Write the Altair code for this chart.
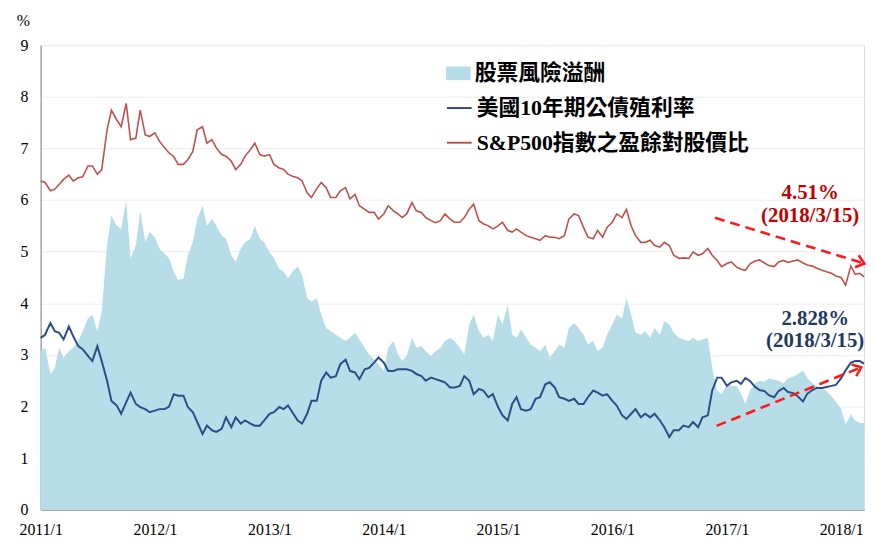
import altair as alt
import pandas as pd

# ---------------- data (semi-monthly, 2011/1/1 .. 2018/3/15) ----------------
dates = pd.date_range("2011-01-01", "2018-03-15", freq="SMS")

# S&P500 earnings yield (%)
ep_values = [
    6.37, 6.34, 6.18, 6.21, 6.30, 6.40, 6.48, 6.37, 6.43, 6.45, 6.66, 6.66, 6.50, 6.59, 7.36,
    7.74, 7.55, 7.42, 7.87, 7.17, 7.20, 7.74, 7.26, 7.23, 7.30, 7.14, 7.01, 6.91, 6.84, 6.69,
    6.69, 6.78, 6.94, 7.36, 7.42, 7.10, 7.17, 7.01, 6.88, 6.85, 6.75, 6.59, 6.69, 6.85,
    6.98, 7.10, 6.88, 6.85, 6.88, 6.69, 6.62, 6.59, 6.50, 6.46, 6.43, 6.37, 6.14, 6.05,
    6.22, 6.34, 6.24, 6.05, 6.05, 6.18, 6.24, 6.02, 6.11, 5.89, 5.82, 5.76, 5.76, 5.63, 5.73,
    5.89, 5.79, 5.73, 5.66, 5.73, 5.95, 5.79, 5.76, 5.66, 5.60, 5.56, 5.60, 5.73, 5.63, 5.57,
    5.57, 5.66, 5.82, 5.92, 5.60, 5.54, 5.50, 5.44, 5.50, 5.57, 5.41, 5.38, 5.44, 5.38,
    5.31, 5.28, 5.25, 5.22, 5.31, 5.28, 5.28, 5.25, 5.31, 5.63, 5.73, 5.70, 5.47, 5.28,
    5.25, 5.41, 5.28, 5.47, 5.57, 5.73, 5.66, 5.82, 5.50, 5.31, 5.18, 5.18, 5.22, 5.12, 5.09,
    5.18, 5.12, 4.93, 4.87, 4.88, 4.87, 4.99, 4.93, 4.96, 5.06, 4.93, 4.83, 4.71, 4.77, 4.80,
    4.70, 4.66, 4.64, 4.76, 4.82, 4.84, 4.78, 4.73, 4.71, 4.80, 4.83, 4.79, 4.82, 4.84,
    4.78, 4.74, 4.72, 4.68, 4.64, 4.61, 4.58, 4.53, 4.50, 4.35, 4.72, 4.56, 4.58, 4.51,
]

# US 10-year Treasury yield (%)
y10_values = [
    3.33, 3.39, 3.62, 3.46, 3.43, 3.30, 3.55, 3.36, 3.17, 3.11, 2.98, 2.88, 3.17, 2.88, 2.50,
    2.11, 2.02, 1.86, 2.08, 2.27, 2.05, 1.99, 1.95, 1.89, 1.92, 1.95, 1.95, 2.00, 2.24, 2.21,
    2.21, 1.99, 1.89, 1.70, 1.47, 1.63, 1.54, 1.51, 1.57, 1.79, 1.60, 1.79, 1.67, 1.73,
    1.67, 1.63, 1.63, 1.73, 1.86, 1.89, 1.99, 1.95, 2.02, 1.89, 1.73, 1.67, 1.86, 2.11,
    2.11, 2.50, 2.66, 2.56, 2.59, 2.82, 2.91, 2.69, 2.66, 2.53, 2.72, 2.75, 2.85, 2.95, 2.85,
    2.69, 2.69, 2.72, 2.72, 2.72, 2.69, 2.63, 2.59, 2.50, 2.56, 2.53, 2.50, 2.47, 2.37, 2.37,
    2.40, 2.59, 2.50, 2.24, 2.34, 2.31, 2.18, 2.24, 1.99, 1.83, 1.73, 2.05, 2.18, 1.95,
    1.92, 1.95, 2.15, 2.18, 2.43, 2.47, 2.37, 2.18, 2.15, 2.11, 2.15, 2.05, 2.05, 2.18,
    2.31, 2.27, 2.21, 2.24, 2.11, 2.02, 1.83, 1.76, 1.86, 1.95, 1.79, 1.86, 1.79, 1.86, 1.73,
    1.60, 1.41, 1.54, 1.54, 1.63, 1.60, 1.70, 1.60, 1.79, 1.83, 2.31, 2.56, 2.56, 2.40, 2.47,
    2.50, 2.44, 2.55, 2.50, 2.38, 2.32, 2.30, 2.22, 2.18, 2.30, 2.36, 2.28, 2.26, 2.20,
    2.10, 2.25, 2.32, 2.36, 2.36, 2.38, 2.40, 2.42, 2.55, 2.70, 2.85, 2.88, 2.88, 2.83,
]

# Equity risk premium (%)
erp_values = [
    3.07, 3.14, 2.63, 2.75, 3.14, 2.95, 3.07, 3.14, 3.27, 3.46, 3.71, 3.78, 3.46, 3.84, 5.12,
    5.70, 5.50, 5.44, 5.98, 4.87, 5.12, 5.79, 5.18, 5.38, 5.28, 5.06, 4.96, 4.87, 4.61, 4.45,
    4.48, 4.93, 5.18, 5.63, 5.89, 5.50, 5.63, 5.50, 5.31, 5.25, 4.93, 4.80, 5.06, 5.18,
    5.25, 5.50, 5.25, 5.18, 4.99, 4.87, 4.67, 4.61, 4.48, 4.61, 4.71, 4.55, 4.10, 4.03,
    4.10, 3.78, 3.52, 3.46, 3.39, 3.33, 3.27, 3.33, 3.43, 3.30, 3.14, 3.01, 2.91, 2.82, 2.69,
    3.14, 3.27, 3.01, 2.88, 2.98, 3.33, 3.14, 3.17, 3.07, 2.98, 3.07, 3.14, 3.27, 3.33, 3.27,
    3.14, 3.01, 3.59, 3.78, 3.46, 3.33, 3.39, 3.27, 3.78, 3.59, 3.97, 3.39, 3.33, 3.49,
    3.33, 3.20, 3.14, 3.07, 3.20, 2.95, 3.07, 3.20, 3.14, 3.52, 3.62, 3.52, 3.39, 3.20,
    3.27, 3.07, 3.14, 3.39, 3.59, 3.78, 3.71, 4.10, 3.78, 3.43, 3.39, 3.46, 3.33, 3.52, 3.39,
    3.65, 3.59, 3.43, 3.33, 3.30, 3.27, 3.33, 3.27, 3.30, 3.33, 2.75, 2.31, 2.24, 2.43, 2.40,
    2.40, 2.25, 2.05, 2.30, 2.45, 2.50, 2.48, 2.55, 2.52, 2.50, 2.45, 2.55, 2.58, 2.62,
    2.70, 2.55, 2.45, 2.40, 2.35, 2.30, 2.20, 2.10, 1.95, 1.65, 1.85, 1.72, 1.68, 1.68,
]

NAME_ERP = "股票風險溢酬"
NAME_Y10 = "美國10年期公債殖利率"
NAME_EP = "S&P500指數之盈餘對股價比"

# annotations
ann_dates = ["2017-09-24", "2017-09-24", "2017-10-10", "2017-10-10"]
ann_values = [6.14, 5.68, 3.70, 3.26]
ann_labels = ["4.51%", "(2018/3/15)", "2.828%", "(2018/3/15)"]
ann_colors = ["#c00000", "#c00000", "#1f3864", "#1f3864"]

# dashed arrows (start -> tip)
arrow_ids = ["ep", "ep", "y10", "y10"]
arrow_dates = ["2016-11-24", "2018-03-16", "2016-11-29", "2018-03-06"]
arrow_values = [5.655, 4.77, 1.625, 2.76]

# ---------------- styling ----------------
SERIF = "Liberation Serif"
LEGEND_FONT = "'Liberation Serif', 'Noto Sans CJK TC'"
AREA_COLOR = "#b7dde8"
BLUE = "#2c4d87"
RED = "#c0504d"
ARROW = "#ff1a1a"

df_area = pd.DataFrame({"date": dates, "value": erp_values, "series": NAME_ERP})
df_y10 = pd.DataFrame({"date": dates, "value": y10_values, "series": NAME_Y10})
df_ep = pd.DataFrame({"date": dates, "value": ep_values, "series": NAME_EP})
df_ann = pd.DataFrame({"date": pd.to_datetime(ann_dates), "value": ann_values,
                       "label": ann_labels, "color": ann_colors})
df_arrow = pd.DataFrame({"date": pd.to_datetime(arrow_dates), "value": arrow_values, "arrow": arrow_ids})

x_scale = alt.Scale(domain=[alt.DateTime(year=2011, month=1, date=1),
                            alt.DateTime(year=2018, month=3, date=15)])
y_scale = alt.Scale(domain=[0, 9], nice=False)

x_axis = alt.Axis(
    values=[alt.DateTime(year=y, month=1, date=1) for y in range(2011, 2019)],
    format="%Y/%-m", labelFont=SERIF, labelFontSize=16, labelColor="black",
    ticks=False, grid=False, domainColor="#a6a6a6", domainWidth=1.5,
    labelPadding=12, labelFlush=False, labelOverlap=False, title=None,
)
y_axis = alt.Axis(
    values=list(range(0, 10)), labelFont=SERIF, labelFontSize=16, labelColor="black",
    ticks=False, grid=True, gridColor="#eeeeee", domainColor="#a6a6a6", domainWidth=1.5,
    labelPadding=13, title="%", titleAngle=0, titleX=-18, titleY=-25,
    titleAlign="center", titleBaseline="middle", titleFont=SERIF, titleFontSize=16,
    titleFontWeight="normal", titleColor="black",
)

X = alt.X("date:T", scale=x_scale, axis=x_axis)
Y = alt.Y("value:Q", scale=y_scale, axis=y_axis)

area = alt.Chart(df_area).mark_area(opacity=1).encode(
    x=X, y=Y,
    fill=alt.Fill("series:N", scale=alt.Scale(domain=[NAME_ERP], range=[AREA_COLOR]),
                  legend=alt.Legend(
                      title=None, orient="none", legendX=409, legendY=16,
                      symbolType="M-1,-0.55H1V0.55H-1Z", symbolSize=625,
                      symbolStrokeWidth=0, symbolOpacity=1,
                      labelFont=LEGEND_FONT, labelFontSize=22, labelFontWeight="bold",
                      labelColor="black", labelLimit=600, labelOffset=4)),
)

stroke_scale = alt.Scale(domain=[NAME_Y10, NAME_EP], range=[BLUE, RED])
stroke_legend = alt.Legend(
    title=None, orient="none", legendX=409, legendY=50,
    symbolType="stroke", symbolSize=625, symbolStrokeWidth=2,
    labelFont=LEGEND_FONT, labelFontSize=22, labelFontWeight="bold",
    labelColor="black", labelLimit=600, labelOffset=4, rowPadding=10)

line_y10 = alt.Chart(df_y10).mark_line(strokeWidth=2).encode(
    x=X, y=Y, stroke=alt.Stroke("series:N", scale=stroke_scale, legend=stroke_legend))
line_ep = alt.Chart(df_ep).mark_line(strokeWidth=1.6).encode(
    x=X, y=Y, stroke=alt.Stroke("series:N", scale=stroke_scale, legend=stroke_legend))

arrows = alt.Chart(df_arrow).mark_line(
    color=ARROW, strokeWidth=2.6, strokeDash=[10, 6], clip=False
).encode(x=X, y=Y, detail="arrow:N")

head_shape = "M-1,-0.8L0,0L-1,0.8"
head_ep = alt.Chart(df_arrow[df_arrow.arrow == "ep"].iloc[[1]]).mark_point(
    shape=head_shape, filled=False, color=ARROW, strokeWidth=2.6, size=250,
    angle=17, opacity=1, clip=False
).encode(x=X, y=Y)
head_y10 = alt.Chart(df_arrow[df_arrow.arrow == "y10"].iloc[[1]]).mark_point(
    shape=head_shape, filled=False, color=ARROW, strokeWidth=2.6, size=250,
    angle=338, opacity=1, clip=False
).encode(x=X, y=Y)

labels = alt.Chart(df_ann).mark_text(
    font=SERIF, fontSize=21, fontWeight="bold", align="center", baseline="middle", clip=False
).encode(x=X, y=Y, text="label:N", color=alt.Color("color:N", scale=None))

chart = alt.layer(area, line_y10, line_ep, arrows, head_ep, head_y10, labels).properties(
    width=831, height=469,
    autosize=alt.AutoSizeParams(type="none"),
    padding={"left": 33, "top": 35, "right": 3, "bottom": 27},
).configure_view(stroke=None).configure(background="white")

chart.save("out.html", embed_options={"renderer": "svg", "actions": False})
